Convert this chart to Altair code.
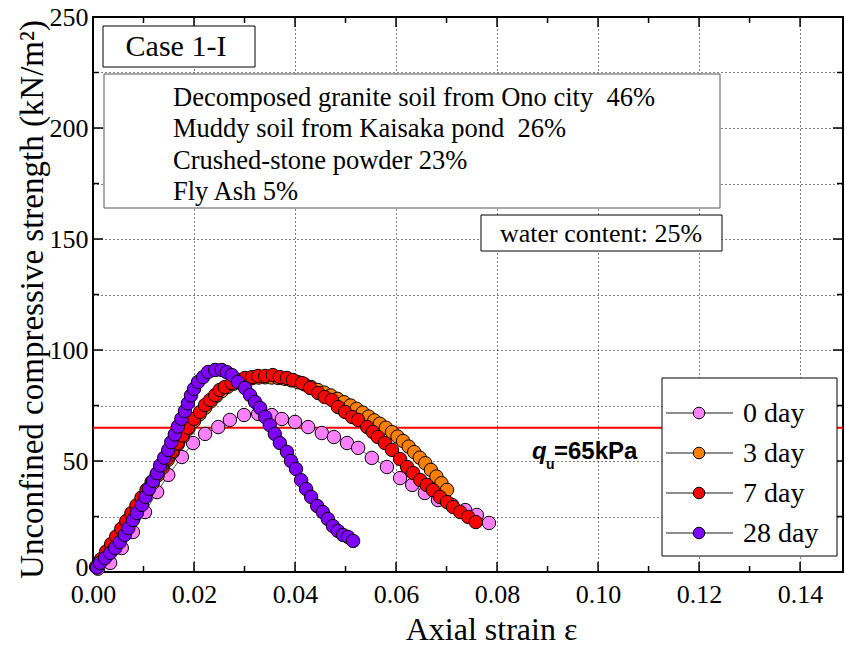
import altair as alt
import pandas as pd

# ---------------- data ----------------
series_names = ["0 day", "3 day", "7 day", "28 day"]
series_colors = ["#FF80FF", "#FF8000", "#FF0000", "#8000FF"]

pink_x = [0.0010, 0.0034, 0.0057, 0.0079, 0.0103, 0.0127, 0.0149, 0.0176, 0.0198, 0.0222, 0.0248, 0.0271,
          0.0299, 0.0327, 0.0354, 0.0374, 0.0400, 0.0426, 0.0453, 0.0477, 0.0503, 0.0525, 0.0552, 0.0582,
          0.0608, 0.0632, 0.0657, 0.0683, 0.0711, 0.0737, 0.0760, 0.0784]
pink_y = [1.5, 4.1, 10.8, 18.0, 27.0, 36.0, 43.7, 51.8, 58.1, 62.2, 65.3, 68.5,
          70.7, 71.2, 70.7, 68.9, 67.6, 65.3, 62.6, 60.8, 58.1, 55.9, 51.4, 47.3,
          42.3, 39.2, 35.6, 32.4, 30.2, 27.9, 25.7, 22.1]

orange_x = [0.0008, 0.0018, 0.0028, 0.0038, 0.0048, 0.0058, 0.0068, 0.0078, 0.0088, 0.0098, 0.0108, 0.0118,
            0.0128, 0.0138, 0.0148, 0.0158, 0.0168, 0.0178, 0.0189, 0.0200, 0.0211, 0.0222, 0.0233, 0.0244,
            0.0255, 0.0266, 0.0278, 0.0290, 0.0302, 0.0315, 0.0328, 0.0341, 0.0354, 0.0367, 0.0380, 0.0393,
            0.0406, 0.0419, 0.0432, 0.0445, 0.0458, 0.0471, 0.0484, 0.0497, 0.0510, 0.0522, 0.0534, 0.0546,
            0.0557, 0.0568, 0.0580, 0.0592, 0.0603, 0.0614, 0.0625, 0.0636, 0.0647, 0.0658, 0.0669, 0.0680,
            0.0690, 0.0701]
orange_y = [2.5, 5.5, 8.8, 12.0, 15.5, 19.0, 22.5, 26.0, 29.5, 33.0, 36.5, 40.0,
            43.5, 47.0, 50.5, 54.0, 57.5, 61.0, 64.5, 68.0, 71.0, 74.0, 76.8, 79.3,
            81.5, 83.3, 84.8, 86.0, 86.8, 87.3, 87.6, 87.7, 87.6, 87.4, 87.0, 86.3,
            85.5, 84.5, 83.3, 82.0, 80.8, 79.5, 78.0, 76.5, 75.0, 73.5, 71.8, 70.0,
            68.3, 66.8, 65.0, 63.0, 61.0, 59.0, 56.5, 54.0, 51.5, 49.0, 46.0, 43.0,
            40.0, 37.0]

red_x = [0.0006, 0.0016, 0.0026, 0.0036, 0.0046, 0.0056, 0.0066, 0.0076, 0.0086, 0.0096, 0.0106, 0.0116,
         0.0126, 0.0136, 0.0146, 0.0157, 0.0167, 0.0177, 0.0188, 0.0200, 0.0212, 0.0222, 0.0232, 0.0242,
         0.0251, 0.0261, 0.0275, 0.0287, 0.0301, 0.0315, 0.0327, 0.0341, 0.0356, 0.0370, 0.0384, 0.0396,
         0.0414, 0.0430, 0.0446, 0.0459, 0.0473, 0.0485, 0.0499, 0.0513, 0.0525, 0.0543, 0.0554, 0.0564,
         0.0578, 0.0592, 0.0608, 0.0622, 0.0634, 0.0648, 0.0661, 0.0673, 0.0687, 0.0701, 0.0713, 0.0727,
         0.0743, 0.0758]
red_y = [2.3, 5.8, 9.2, 12.6, 16.0, 19.5, 23.0, 26.5, 30.0, 33.5, 37.0, 40.5,
         44.0, 47.5, 51.0, 54.5, 58.0, 61.5, 65.0, 69.0, 72.1, 75.2, 77.5, 79.7,
         82.0, 83.3, 85.1, 86.5, 87.4, 87.8, 88.3, 88.3, 88.7, 87.8, 87.4, 86.5,
         85.1, 82.9, 80.6, 78.8, 77.5, 74.3, 72.1, 69.8, 68.5, 65.3, 63.1, 60.8,
         58.1, 55.0, 50.9, 47.3, 44.6, 41.4, 39.2, 36.9, 33.8, 31.5, 29.3, 27.0,
         24.8, 22.5]

purple_x = [0.0008, 0.0014, 0.0024, 0.0034, 0.0044, 0.0053, 0.0063, 0.0070, 0.0079, 0.0087, 0.0097, 0.0104,
            0.0111, 0.0119, 0.0127, 0.0133, 0.0141, 0.0149, 0.0155, 0.0162, 0.0168, 0.0175, 0.0182, 0.0188,
            0.0194, 0.0200, 0.0208, 0.0218, 0.0228, 0.0242, 0.0255, 0.0265, 0.0275, 0.0287, 0.0301, 0.0311,
            0.0321, 0.0331, 0.0341, 0.0350, 0.0360, 0.0370, 0.0384, 0.0392, 0.0402, 0.0412, 0.0422, 0.0432,
            0.0444, 0.0455, 0.0465, 0.0475, 0.0485, 0.0495, 0.0505, 0.0515]
purple_y = [2.0, 4.1, 6.3, 8.6, 10.8, 13.5, 16.7, 19.8, 23.4, 26.6, 30.2, 33.8,
            37.5, 41.0, 44.5, 48.0, 51.5, 55.0, 58.5, 62.0, 65.5, 69.0, 72.5, 76.0,
            79.5, 82.5, 85.6, 87.8, 90.1, 91.0, 91.0, 90.0, 88.7, 85.6, 82.9, 79.7,
            76.6, 73.9, 69.8, 66.2, 62.2, 58.1, 54.1, 50.0, 46.4, 41.4, 37.4, 33.8,
            29.7, 27.0, 23.9, 20.7, 18.5, 16.7, 15.8, 14.0]

x_tick_labels = [0.00, 0.02, 0.04, 0.06, 0.08, 0.10, 0.12, 0.14]
x_minor_ticks = [0.01, 0.03, 0.05, 0.07, 0.09, 0.11, 0.13]
y_tick_values = [0, 25, 50, 75, 100, 125, 150, 175, 200, 225, 250]
y_major_ticks = [50, 100, 150, 200]
y_minor_ticks = [25, 75, 125, 175, 225]
qu_value = [65]

material_lines = ["Decomposed granite soil from Ono city\u00a0 46%",
                  "Muddy soil from Kaisaka pond\u00a0 26%",
                  "Crushed-stone powder 23%",
                  "Fly Ash 5%"]

# ---------------- build table ----------------
frames = []
for name, xs, ys in zip(series_names,
                        [pink_x, orange_x, red_x, purple_x],
                        [pink_y, orange_y, red_y, purple_y]):
    frames.append(pd.DataFrame({"strain": xs, "stress": ys, "series": name, "idx": range(len(xs))}))
df = pd.concat(frames, ignore_index=True)

W, H = 750, 555
SERIF = "Liberation Serif"
SANS = "Liberation Sans"

xscale = alt.Scale(domain=[0, 0.1485], nice=False, zero=False)
yscale = alt.Scale(domain=[0, 250], nice=False)
color_scale = alt.Scale(domain=series_names, range=series_colors)

x_axis = alt.Axis(values=x_tick_labels, format=".2f", labelFont=SERIF, labelFontSize=26, labelColor="black",
                  labelPadding=9, labelFlush=False, ticks=False, domain=False,
                  grid=True, gridDash=[1, 3], gridColor="black", gridWidth=1, gridOpacity=1,
                  title="Axial strain ε", titleFont=SERIF, titleFontSize=32, titleFontWeight="normal",
                  titleColor="black", titleX=398, titleY=67, titleBaseline="alphabetic", titleAlign="center")
y_axis = alt.Axis(values=y_tick_values, labelExpr="datum.value % 50 == 0 ? datum.label : ''",
                  format="d", labelFont=SERIF, labelFontSize=26, labelColor="black", labelPadding=5,
                  labelOffset=alt.condition("datum.value == 0", alt.value(-5), alt.value(0)),
                  labelFlush=False, ticks=False, domain=False,
                  grid=True, gridDash=[1, 3], gridColor="black", gridWidth=1, gridOpacity=1,
                  title="Unconfined compressive strength (kN/m²)", titleFont=SERIF, titleFontSize=33,
                  titleFontWeight="normal", titleColor="black", titleX=-51, titleY=282,
                  titleBaseline="alphabetic", titleAlign="center")

X = lambda: alt.X("strain:Q", scale=xscale, axis=x_axis)
Y = lambda: alt.Y("stress:Q", scale=yscale, axis=y_axis)

base = alt.Chart(df)
lines = base.mark_line(color="#555555", strokeWidth=1).encode(
    x=X(), y=Y(), detail="series:N", order="idx:Q")
points = base.mark_circle(size=180, stroke="black", strokeWidth=1, opacity=1).encode(
    x=X(), y=Y(), fill=alt.Fill("series:N", scale=color_scale, legend=None))

qu_line = alt.Chart(pd.DataFrame({"stress": qu_value})).mark_rule(color="#FF0000", strokeWidth=2).encode(y=Y())

# ticks (inward)
def xticks(vals, length):
    d = pd.DataFrame({"strain": vals})
    bottom = alt.Chart(d).mark_rule(color="black", strokeWidth=1.5).encode(
        x=X(), y=alt.value(H), y2=alt.value(H - length))
    top = alt.Chart(d).mark_rule(color="black", strokeWidth=1.5).encode(
        x=X(), y=alt.value(0), y2=alt.value(length))
    return [bottom, top]

def yticks(vals, length):
    d = pd.DataFrame({"stress": vals})
    left = alt.Chart(d).mark_rule(color="black", strokeWidth=1.5).encode(
        y=Y(), x=alt.value(0), x2=alt.value(length))
    right = alt.Chart(d).mark_rule(color="black", strokeWidth=1.5).encode(
        y=Y(), x=alt.value(W), x2=alt.value(W - length))
    return [left, right]

tick_layers = (xticks(x_tick_labels[1:], 10) + xticks(x_minor_ticks, 6)
               + yticks(y_major_ticks, 10) + yticks(y_minor_ticks, 6))

dummy = pd.DataFrame({"a": [0]})

def box(x1, x2, y1, y2, stroke="black", sw=1):
    return alt.Chart(dummy).mark_rect(fill="white", stroke=stroke, strokeWidth=sw).encode(
        x=alt.value(x1), x2=alt.value(x2), y=alt.value(y1), y2=alt.value(y2))

def text(t, x, y, size, font=SERIF, align="left", weight="normal", style="normal", baseline="middle"):
    return alt.Chart(dummy).mark_text(text=t, font=font, fontSize=size, align=align, baseline=baseline,
                                      fontWeight=weight, fontStyle=style, color="black").encode(
        x=alt.value(x), y=alt.value(y))

annots = []
# Case box
annots.append(box(10, 162, 9, 50))
annots.append(text("Case 1-I", 83, 30, 30, align="center"))
# materials box
annots.append(box(11, 627, 57, 191, stroke="#555555"))
for i, line in enumerate(material_lines):
    annots.append(text(line, 80, 81 + i * 31.3, 26.5))
# water content
annots.append(box(388, 629, 198, 234))
annots.append(text("water content: 25%", 508, 217, 26, align="center"))
# q_u label
annots.append(text("q", 439, 435, 24, font=SANS, weight="bold", style="italic"))
annots.append(text("u", 453, 448, 14, font=SANS, weight="bold"))
annots.append(text("=65kPa", 461, 435, 24, font=SANS, weight="bold"))
# legend
annots.append(box(569, 744, 361, 539))
for i, (name, col) in enumerate(zip(series_names, series_colors)):
    yy = 396 + i * 40
    annots.append(alt.Chart(dummy).mark_rule(color="#666666", strokeWidth=1.5).encode(
        x=alt.value(573), x2=alt.value(640), y=alt.value(yy)))
    annots.append(alt.Chart(dummy).mark_circle(size=135, fill=col, stroke="black", strokeWidth=1,
                                               opacity=1).encode(x=alt.value(606), y=alt.value(yy)))
    annots.append(text(name, 650, yy + 1, 28))

chart = alt.layer(lines, qu_line, *tick_layers, points, *annots).properties(
    width=W, height=H,
    autosize=alt.AutoSizeParams(type="none"),
    padding={"left": 93, "top": 17, "right": 2, "bottom": 74},
    background="white",
).configure_view(stroke="black", strokeWidth=2)

chart.save("out.html", embed_options={"renderer": "svg", "actions": False})
